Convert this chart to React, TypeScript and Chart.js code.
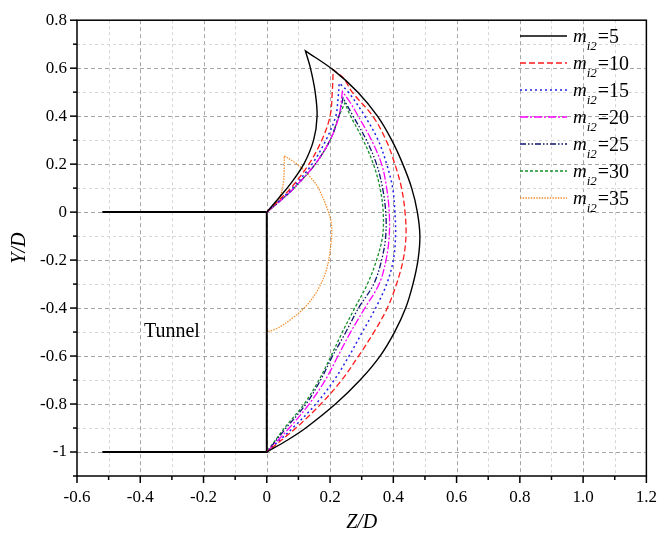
import React, { useEffect, useRef } from 'react';
import { Chart, registerables } from 'chart.js';
Chart.register(...registerables);

type P = [number, number];

// m_i2 values (legend)
const mValues = ['5', '10', '15', '20', '25', '30', '35'];

// Curves: (Z/D, Y/D); the tip point is repeated to keep a sharp corner
const curveM5: P[] = [[0, 0], [0.04, 0.062], [0.076, 0.12], [0.117, 0.2], [0.148, 0.3], [0.159, 0.4], [0.153, 0.5], [0.138, 0.6], [0.122, 0.672], [0.122, 0.672], [0.210, 0.593], [0.288, 0.5], [0.35, 0.4], [0.395, 0.3], [0.43, 0.2], [0.458, 0.1], [0.476, 0], [0.484, -0.1], [0.478, -0.2], [0.462, -0.3], [0.439, -0.4], [0.404, -0.5], [0.358, -0.6], [0.295, -0.7], [0.217, -0.8], [0.123, -0.9], [0.066, -0.95], [0, -1]];
const curveM10: P[] = [[0, 0], [0.04, 0.052], [0.076, 0.1], [0.133, 0.2], [0.174, 0.3], [0.2, 0.4], [0.207, 0.5], [0.210, 0.593], [0.210, 0.593], [0.242, 0.559], [0.27, 0.5], [0.335, 0.4], [0.377, 0.3], [0.405, 0.2], [0.426, 0.1], [0.437, 0], [0.44, -0.1], [0.431, -0.2], [0.41, -0.3], [0.381, -0.4], [0.339, -0.5], [0.29, -0.6], [0.237, -0.7], [0.171, -0.8], [0.092, -0.9], [0, -1]];
const curveM15: P[] = [[0, 0], [0.042, 0.05], [0.081, 0.1], [0.143, 0.2], [0.187, 0.3], [0.218, 0.4], [0.225, 0.47], [0.229, 0.538], [0.229, 0.538], [0.258, 0.5], [0.31, 0.4], [0.352, 0.3], [0.379, 0.2], [0.398, 0.1], [0.405, 0], [0.407, -0.1], [0.4, -0.2], [0.379, -0.3], [0.344, -0.4], [0.302, -0.5], [0.26, -0.6], [0.213, -0.7], [0.155, -0.8], [0.082, -0.9], [0, -1]];
const curveM20: P[] = [[0, 0], [0.045, 0.05], [0.086, 0.1], [0.153, 0.2], [0.2, 0.3], [0.228, 0.4], [0.239, 0.503], [0.239, 0.503], [0.262, 0.46], [0.289, 0.4], [0.331, 0.3], [0.363, 0.2], [0.379, 0.1], [0.387, 0], [0.387, -0.1], [0.377, -0.2], [0.355, -0.3], [0.31, -0.4], [0.265, -0.5], [0.225, -0.6], [0.185, -0.7], [0.134, -0.8], [0.071, -0.9], [0, -1]];
const curveM25: P[] = [[0, 0], [0.045, 0.05], [0.086, 0.1], [0.153, 0.2], [0.2, 0.3], [0.228, 0.4], [0.241, 0.476], [0.241, 0.476], [0.273, 0.4], [0.315, 0.3], [0.347, 0.2], [0.366, 0.1], [0.376, 0], [0.376, -0.1], [0.363, -0.2], [0.338, -0.3], [0.29, -0.4], [0.25, -0.5], [0.208, -0.6], [0.17, -0.7], [0.124, -0.8], [0.061, -0.9], [0, -1]];
const curveM30: P[] = [[0, 0], [0.045, 0.05], [0.086, 0.1], [0.153, 0.2], [0.2, 0.3], [0.228, 0.4], [0.247, 0.455], [0.247, 0.455], [0.265, 0.4], [0.305, 0.3], [0.337, 0.2], [0.358, 0.1], [0.368, 0], [0.366, -0.1], [0.347, -0.2], [0.318, -0.3], [0.278, -0.4], [0.239, -0.5], [0.203, -0.6], [0.165, -0.7], [0.118, -0.8], [0.056, -0.9], [0, -1]];
const curveM35: P[] = [[0, 0], [0.026, 0.03], [0.042, 0.065], [0.052, 0.119], [0.055, 0.174], [0.055, 0.235], [0.055, 0.235], [0.096, 0.2], [0.135, 0.15], [0.163, 0.1], [0.195, 0.0], [0.205, -0.06], [0.202, -0.141], [0.189, -0.238], [0.163, -0.32], [0.126, -0.389], [0.079, -0.444], [0.032, -0.485], [0, -0.499]];

// Tunnel outline
const tunnelZ = [-0.52, 0, 0, -0.52];
const tunnelY = [0, 0, -1, -1];

const curves = [curveM5, curveM10, curveM15, curveM20, curveM25, curveM30, curveM35];
const colors = ['#000000', '#ff1a1a', '#2020e8', '#ff00ff', '#10106e', '#15902a', '#f39030'];
const dashes: number[][] = [[], [6, 3], [2, 3], [8, 2, 2, 2], [6, 2, 1.5, 2, 1.5, 2], [3, 2], [1.5, 1.2]];
const widths = [1.4, 1.3, 1.5, 1.3, 1.3, 1.3, 1.3];

const SERIF = '"Liberation Serif", "Times New Roman", serif';

const decor = {
  id: 'decor',
  beforeDatasetsDraw(chart: any) {
    const { ctx, chartArea: a, scales } = chart;
    const x = scales.x, y = scales.y;
    ctx.save();
    ctx.lineWidth = 1;
    for (let k = -5; k <= 11; k++) {
      const px = Math.round(x.getPixelForValue(k / 10)) + 0.5;
      const major = k % 2 === 0;
      ctx.strokeStyle = major ? '#a6a6a6' : '#d6d6d6';
      ctx.setLineDash(major ? [4, 3] : [3, 3]);
      ctx.beginPath(); ctx.moveTo(px, a.top); ctx.lineTo(px, a.bottom); ctx.stroke();
    }
    for (let k = -10; k <= 7; k++) {
      const py = Math.round(y.getPixelForValue(k / 10)) + 0.5;
      const major = k % 2 === 0;
      ctx.strokeStyle = major ? '#a6a6a6' : '#d6d6d6';
      ctx.setLineDash(major ? [4, 3] : [3, 3]);
      ctx.beginPath(); ctx.moveTo(a.left, py); ctx.lineTo(a.right, py); ctx.stroke();
    }
    ctx.restore();
  },
  afterDraw(chart: any) {
    const { ctx, chartArea: a, scales } = chart;
    const x = scales.x, y = scales.y;
    ctx.save();
    ctx.setLineDash([]);
    ctx.strokeStyle = '#000';
    ctx.lineWidth = 1.5;
    ctx.strokeRect(a.left, a.top, a.right - a.left, a.bottom - a.top);
    // tick marks
    for (let k = -6; k <= 12; k++) {
      const px = x.getPixelForValue(k / 10);
      const len = k % 2 === 0 ? 7 : 4;
      ctx.beginPath(); ctx.moveTo(px, a.bottom); ctx.lineTo(px, a.bottom + len); ctx.stroke();
    }
    for (let k = -11; k <= 8; k++) {
      const py = y.getPixelForValue(k / 10);
      const len = k % 2 === 0 ? 7 : 4;
      ctx.beginPath(); ctx.moveTo(a.left - len, py); ctx.lineTo(a.left, py); ctx.stroke();
    }
    // axis titles
    ctx.fillStyle = '#000';
    ctx.font = `italic 20px ${SERIF}`;
    ctx.textAlign = 'center';
    ctx.textBaseline = 'middle';
    ctx.fillText('Z/D', (a.left + a.right) / 2, 523);
    ctx.save();
    ctx.translate(20, (a.top + a.bottom) / 2);
    ctx.rotate(-Math.PI / 2);
    ctx.fillText('Y/D', 0, 0);
    ctx.restore();
    // tunnel label
    ctx.font = `20px ${SERIF}`;
    ctx.fillText('Tunnel', x.getPixelForValue(-0.3), y.getPixelForValue(-0.5));
    // legend
    ctx.textAlign = 'left';
    ctx.textBaseline = 'alphabetic';
    for (let i = 0; i < mValues.length; i++) {
      const ry = 36 + i * 27;
      ctx.strokeStyle = colors[i];
      ctx.lineWidth = widths[i];
      ctx.setLineDash(dashes[i]);
      ctx.beginPath(); ctx.moveTo(520, ry); ctx.lineTo(567, ry); ctx.stroke();
      ctx.setLineDash([]);
      let tx = 573;
      ctx.font = `italic 19px ${SERIF}`;
      ctx.fillText('m', tx, ry + 6);
      tx += ctx.measureText('m').width;
      ctx.font = `italic 13px ${SERIF}`;
      ctx.fillText('i2', tx, ry + 14);
      tx += ctx.measureText('i2').width + 1;
      ctx.font = `20px ${SERIF}`;
      ctx.fillText('=' + mValues[i], tx, ry + 7);
    }
    ctx.restore();
  },
};

export default function App() {
  const ref = useRef<HTMLCanvasElement>(null);
  useEffect(() => {
    if (!ref.current) return;
    const datasets: any[] = curves.map((c, i) => ({
      label: 'm_i2=' + mValues[i],
      data: c.map(([zx, zy]) => ({ x: zx, y: zy })),
      borderColor: colors[i],
      borderWidth: widths[i],
      borderDash: dashes[i],
      pointRadius: 0,
      tension: 0.35,
      fill: false,
    }));
    datasets.push({
      label: 'Tunnel',
      data: tunnelZ.map((v, i) => ({ x: v, y: tunnelY[i] })),
      borderColor: '#000',
      borderWidth: 2,
      pointRadius: 0,
      tension: 0,
      fill: false,
    });
    const tickFont = { family: SERIF, size: 17 };
    const chart = new Chart(ref.current, {
      type: 'line',
      data: { datasets },
      plugins: [decor],
      options: {
        responsive: false,
        animation: false,
        layout: { padding: { left: 0, right: 21, top: 15, bottom: 0 } },
        plugins: { legend: { display: false }, tooltip: { enabled: false } },
        scales: {
          x: {
            type: 'linear', min: -0.6, max: 1.2,
            grid: { display: false, drawTicks: false },
            border: { display: false },
            afterFit: (s: any) => { s.height = 65; },
            ticks: {
              stepSize: 0.1, autoSkip: false, maxRotation: 0, padding: 11,
              color: '#000', font: tickFont,
              callback: (v: any) => {
                const k = Math.round(Number(v) * 10);
                if (k % 2 !== 0) return '';
                return k === 0 ? '0' : (k / 10).toFixed(1);
              },
            },
          },
          y: {
            type: 'linear', min: -1.1, max: 0.8,
            grid: { display: false, drawTicks: false },
            border: { display: false },
            afterFit: (s: any) => { s.width = 77; },
            ticks: {
              stepSize: 0.1, autoSkip: false, padding: 10,
              color: '#000', font: tickFont,
              callback: (v: any) => {
                const k = Math.round(Number(v) * 10);
                if (k % 2 !== 0) return '';
                return k % 10 === 0 ? String(k / 10) : (k / 10).toFixed(1);
              },
            },
          },
        },
      },
    });
    return () => chart.destroy();
  }, []);
  return (
    <div style={{ position: 'absolute', left: 0, top: 0, width: 668, height: 541, background: '#fff' }}>
      <canvas ref={ref} width={668} height={541} />
    </div>
  );
}
